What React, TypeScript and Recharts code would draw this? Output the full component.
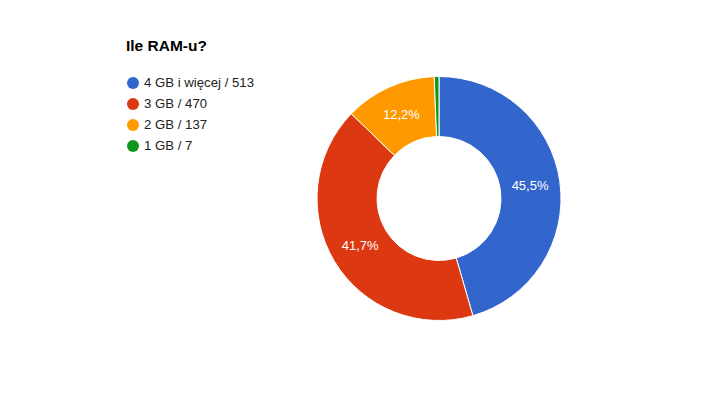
import { PieChart, Pie, Cell, Legend } from 'recharts';

const categories = ['4 GB i więcej', '3 GB', '2 GB', '1 GB'];
const counts = [513, 470, 137, 7];
const colors = ['#3366cc', '#dc3912', '#ff9900', '#109618'];

const data = categories.map((name, i) => ({ name, value: counts[i] }));
const total = counts.reduce((a, b) => a + b, 0);

const RADIAN = Math.PI / 180;

function renderLabel(props: any) {
  const { cx, cy, midAngle, innerRadius, outerRadius, value } = props;
  const pct = (value / total) * 100;
  if (pct < 5) return null;
  const r = (innerRadius + outerRadius) / 2;
  const x = cx + r * Math.cos(-midAngle * RADIAN);
  const y = cy + r * Math.sin(-midAngle * RADIAN);
  return (
    <text
      x={x}
      y={y}
      fill="#ffffff"
      textAnchor="middle"
      dominantBaseline="central"
      fontSize={13}
      fontFamily="Arial, 'Liberation Sans', sans-serif"
    >
      {pct.toFixed(1).replace('.', ',') + '%'}
    </text>
  );
}

function LegendContent() {
  return (
    <div>
      {data.map((d, i) => (
        <div
          key={d.name}
          style={{ display: 'flex', alignItems: 'center', height: 21 }}
        >
          <span
            style={{
              width: 12,
              height: 12,
              borderRadius: 6,
              background: colors[i],
              marginRight: 5,
              flexShrink: 0,
            }}
          />
          <span style={{ fontSize: 13.2, color: '#222222', whiteSpace: 'nowrap' }}>
            {d.name} / {d.value}
          </span>
        </div>
      ))}
    </div>
  );
}

export default function App() {
  return (
    <div
      style={{
        position: 'absolute',
        left: 0,
        top: 0,
        width: 704,
        height: 396,
        background: '#ffffff',
        fontFamily: "Arial, 'Liberation Sans', sans-serif",
      }}
    >
      <div
        style={{
          position: 'absolute',
          left: 126,
          top: 37,
          fontSize: 15.5,
          fontWeight: 'bold',
          color: '#000000',
        }}
      >
        Ile RAM-u?
      </div>
      <PieChart width={704} height={396} margin={{ top: 0, right: 0, bottom: 0, left: 0 }}>
        <Pie
          data={data}
          dataKey="value"
          nameKey="name"
          cx={439}
          cy={198.5}
          innerRadius={62}
          outerRadius={122}
          startAngle={90}
          endAngle={-270}
          stroke="#ffffff"
          strokeWidth={1}
          label={renderLabel}
          labelLine={false}
          isAnimationActive={false}
        >
          {data.map((d, i) => (
            <Cell key={d.name} fill={colors[i]} />
          ))}
        </Pie>
        <Legend
          content={<LegendContent />}
          wrapperStyle={{ position: 'absolute', left: 127, top: 72, width: 200 }}
        />
      </PieChart>
    </div>
  );
}
